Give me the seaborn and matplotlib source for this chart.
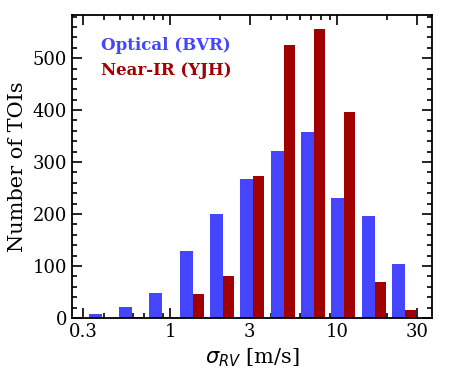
import numpy as np
import pandas as pd
import matplotlib
matplotlib.use("Agg")
import matplotlib.pyplot as plt
import seaborn as sns
from matplotlib.ticker import FixedLocator, FixedFormatter, MultipleLocator, LogLocator, NullFormatter

# Data
bin_edges = [float(v) for v in np.logspace(np.log10(0.308), np.log10(30.8), 12)]
optical_counts = [8, 21, 48, 129, 200, 267, 321, 358, 231, 196, 104]
nir_counts = [0, 2, 2, 47, 81, 273, 525, 556, 396, 69, 15]
labels = ["Optical (BVR)", "Near-IR (YJH)"]
colors = ["#4545FF", "#A00000"]
xticks = [0.3, 1, 3, 10, 30]
xticklabels = ["0.3", "1", "3", "10", "30"]

edges = np.array(bin_edges)
centers = np.sqrt(edges[:-1] * edges[1:])
df = pd.DataFrame({
    "sigma": np.concatenate([centers, centers]),
    "count": optical_counts + nir_counts,
    "band": [labels[0]] * len(centers) + [labels[1]] * len(centers),
})

sns.set_style("ticks")
plt.rcParams["font.family"] = ["DejaVu Serif"]
plt.rcParams["mathtext.fontset"] = "dejavusans"
plt.rcParams["text.color"] = "black"
plt.rcParams["axes.labelcolor"] = "black"
plt.rcParams["xtick.color"] = "black"
plt.rcParams["ytick.color"] = "black"

fig = plt.figure(figsize=(4.5, 3.7), dpi=100)
ax = fig.add_axes([0.16, 0.1405, 0.80, 0.819])

sns.histplot(data=df, x="sigma", weights="count", hue="band", hue_order=labels,
             bins=bin_edges, multiple="dodge", shrink=0.8, palette=colors,
             alpha=1, linewidth=0, legend=False, ax=ax)

ax.set_xscale("log")
ax.set_xlim(0.258, 37)
ax.set_ylim(0, 583)
ax.xaxis.set_major_locator(FixedLocator(xticks))
ax.xaxis.set_major_formatter(FixedFormatter(xticklabels))
ax.xaxis.set_minor_locator(LogLocator(base=10, subs=np.arange(1, 10)))
ax.xaxis.set_minor_formatter(NullFormatter())
ax.yaxis.set_major_locator(MultipleLocator(100))
ax.yaxis.set_minor_locator(MultipleLocator(20))

ax.tick_params(which="both", direction="in", top=True, right=True, labelsize=13,
               width=1.2, color="black", labelcolor="black")
ax.tick_params(which="major", length=7)
ax.tick_params(which="minor", length=3.5)
for s in ax.spines.values():
    s.set_linewidth(1.3)
    s.set_color("black")

ax.set_xlabel(r"$\sigma_{RV}$ [m/s]", fontsize=15, color="black")
ax.set_ylabel("Number of TOIs", fontsize=15, color="black")

ax.text(0.08, 0.898, labels[0], transform=ax.transAxes, color=colors[0],
        fontsize=12, fontweight="bold", va="center")
ax.text(0.08, 0.818, labels[1], transform=ax.transAxes, color=colors[1],
        fontsize=12, fontweight="bold", va="center")

fig.savefig("out.png", dpi=100)
